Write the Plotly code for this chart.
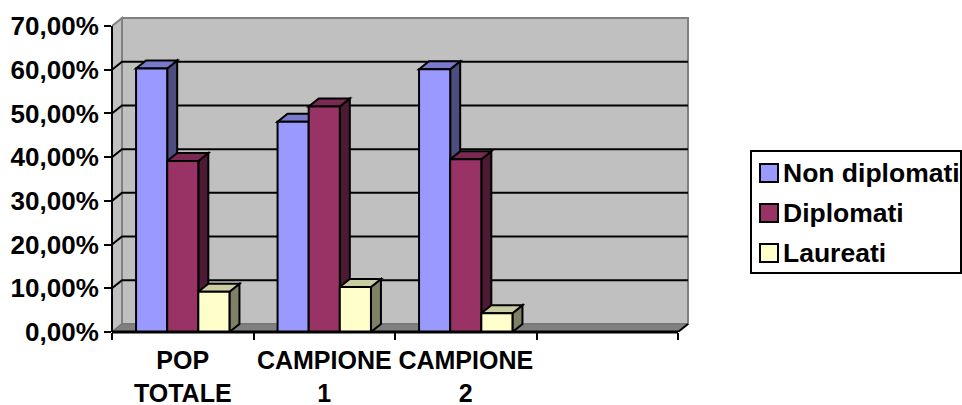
import plotly.graph_objects as go

# ---------------- data ----------------
categories = ["POP<br>TOTALE", "CAMPIONE<br>1", "CAMPIONE<br>2", ""]
series_names = ["Non diplomati", "Diplomati", "Laureati"]
non_diplomati = [0.603, 0.481, 0.601]
diplomati = [0.391, 0.516, 0.395]
laureati = [0.092, 0.103, 0.043]
y_ticks = [0.0, 0.1, 0.2, 0.3, 0.4, 0.5, 0.6, 0.7]

series_values = [non_diplomati, diplomati, laureati]
front_colors = ["#9999FF", "#993366", "#FFFFCC"]
side_colors = ["#4D4D80", "#4D1A33", "#808066"]
top_colors = ["#7A7ACC", "#7A2952", "#CCCCA3"]

# ---------------- geometry (pixel layout) ----------------
W, H = 962, 405
L, R, T, B = 112, 272, 16, 73
plot_w = W - L - R
plot_h = H - T - B
px_x = 141.5          # px per category
px_y = 437.1          # px per unit (100%)
dxd = 10 / px_x       # depth offset in data units (x)
dyd = 8 / px_y        # depth offset in data units (y)
x_lo = -0.5
x_hi = x_lo + plot_w / px_x
y_hi = plot_h / px_y
ymax = y_ticks[-1]
n_cat = len(categories)
bar_w = 0.22
bar_start = -0.33

FAM = "Liberation Sans, Arial, sans-serif"
yfont = dict(family=FAM, size=26, color="black", weight="bold")
xfont = dict(family=FAM, size=25, color="black", weight="bold")
legend_font = dict(family=FAM, size=26.5, color="black", weight="bold")

fig = go.Figure()
shapes = []

# back wall
shapes.append(dict(type="rect", xref="x", yref="y", layer="below",
                   x0=x_lo + dxd, x1=x_lo + n_cat + dxd, y0=dyd, y1=ymax + dyd,
                   fillcolor="#C0C0C0", line=dict(color="#808080", width=2)))
# left side wall
shapes.append(dict(type="path", xref="x", yref="y", layer="below",
                   path=f"M{x_lo},0 L{x_lo},{ymax} L{x_lo+dxd},{ymax+dyd} L{x_lo+dxd},{dyd} Z",
                   fillcolor="#C0C0C0", line=dict(color="#808080", width=2)))
# floor
shapes.append(dict(type="path", xref="x", yref="y", layer="below",
                   path=f"M{x_lo},0 L{x_lo+n_cat},0 L{x_lo+n_cat+dxd},{dyd} L{x_lo+dxd},{dyd} Z",
                   fillcolor="#808080", line=dict(color="#707070", width=1)))
# gridlines (side wall + back wall)
for v in y_ticks[1:-1]:
    shapes.append(dict(type="path", xref="x", yref="y", layer="below",
                       path=f"M{x_lo},{v} L{x_lo+dxd},{v+dyd} L{x_lo+n_cat+dxd},{v+dyd}",
                       line=dict(color="black", width=2)))

# 3D side and top faces of each bar
for ci in range(3):
    for si, vals in enumerate(series_values):
        v = vals[ci]
        x0 = ci + bar_start + si * bar_w
        x1 = x0 + bar_w
        shapes.append(dict(type="path", xref="x", yref="y", layer="below",
                           path=f"M{x1},0 L{x1+dxd},{dyd} L{x1+dxd},{v+dyd} L{x1},{v} Z",
                           fillcolor=side_colors[si], line=dict(color="black", width=2)))
        shapes.append(dict(type="path", xref="x", yref="y", layer="below",
                           path=f"M{x0},{v} L{x1},{v} L{x1+dxd},{v+dyd} L{x0+dxd},{v+dyd} Z",
                           fillcolor=top_colors[si], line=dict(color="black", width=2)))

# front faces (bars)
for si, vals in enumerate(series_values):
    fig.add_trace(go.Bar(
        x=list(range(len(vals))), y=vals, name=series_names[si],
        width=bar_w, offset=bar_start + si * bar_w,
        marker=dict(color=front_colors[si], line=dict(color="black", width=2)),
        showlegend=False, hoverinfo="skip"))

# axes lines
shapes.append(dict(type="line", xref="paper", yref="y", layer="above",
                   x0=0, x1=0, y0=0, y1=ymax, line=dict(color="black", width=2)))
shapes.append(dict(type="line", xref="x", yref="paper", layer="above",
                   x0=x_lo, x1=x_lo + n_cat, y0=0, y1=0, line=dict(color="black", width=3)))
shapes.append(dict(type="line", xref="x", yref="y", layer="above",
                   x0=x_lo + n_cat, x1=x_lo + n_cat + dxd, y0=0, y1=dyd,
                   line=dict(color="black", width=2)))

# ---------------- manual legend ----------------
def pxx(p):
    return (p - L) / plot_w

def pxy(p):
    return (H - B - p) / plot_h

shapes.append(dict(type="rect", xref="paper", yref="paper", layer="above",
                   x0=pxx(751), x1=pxx(961), y0=pxy(273), y1=pxy(151),
                   line=dict(color="black", width=2), fillcolor="white"))
annotations = []
row_y = [173, 213, 253]
for si, name in enumerate(series_names):
    cy = row_y[si]
    shapes.append(dict(type="rect", xref="paper", yref="paper", layer="above",
                       x0=pxx(760), x1=pxx(778), y0=pxy(cy + 9), y1=pxy(cy - 9),
                       fillcolor=front_colors[si], line=dict(color="black", width=2)))
    annotations.append(dict(xref="paper", yref="paper", x=pxx(781), y=pxy(cy),
                            xanchor="left", yanchor="middle", text=name,
                            showarrow=False, font=legend_font))

fig.update_layout(
    width=W, height=H,
    margin=dict(l=L, r=R, t=T, b=B, pad=0, autoexpand=False),
    paper_bgcolor="white", plot_bgcolor="white",
    barmode="overlay",
    separators=",.",
    shapes=shapes, annotations=annotations,
    showlegend=False,
    xaxis=dict(range=[x_lo, x_hi], tickmode="array",
               tickvals=list(range(n_cat)), ticktext=categories,
               ticks="", showgrid=False, zeroline=False, showline=False,
               tickfont=xfont, fixedrange=True, ticklabelstandoff=11,
               tickangle=0, automargin=False,
               minor=dict(tick0=-0.5, dtick=1, ticks="outside", ticklen=7,
                          tickwidth=2, tickcolor="black", showgrid=False)),
    yaxis=dict(range=[0, y_hi], tickmode="array", tickvals=y_ticks,
               tickformat=".2%", ticks="outside", ticklen=7, tickwidth=2,
               tickcolor="black", showgrid=False, zeroline=False,
               showline=False, tickfont=yfont, fixedrange=True, automargin=False),
)

fig.write_html("out.html")
